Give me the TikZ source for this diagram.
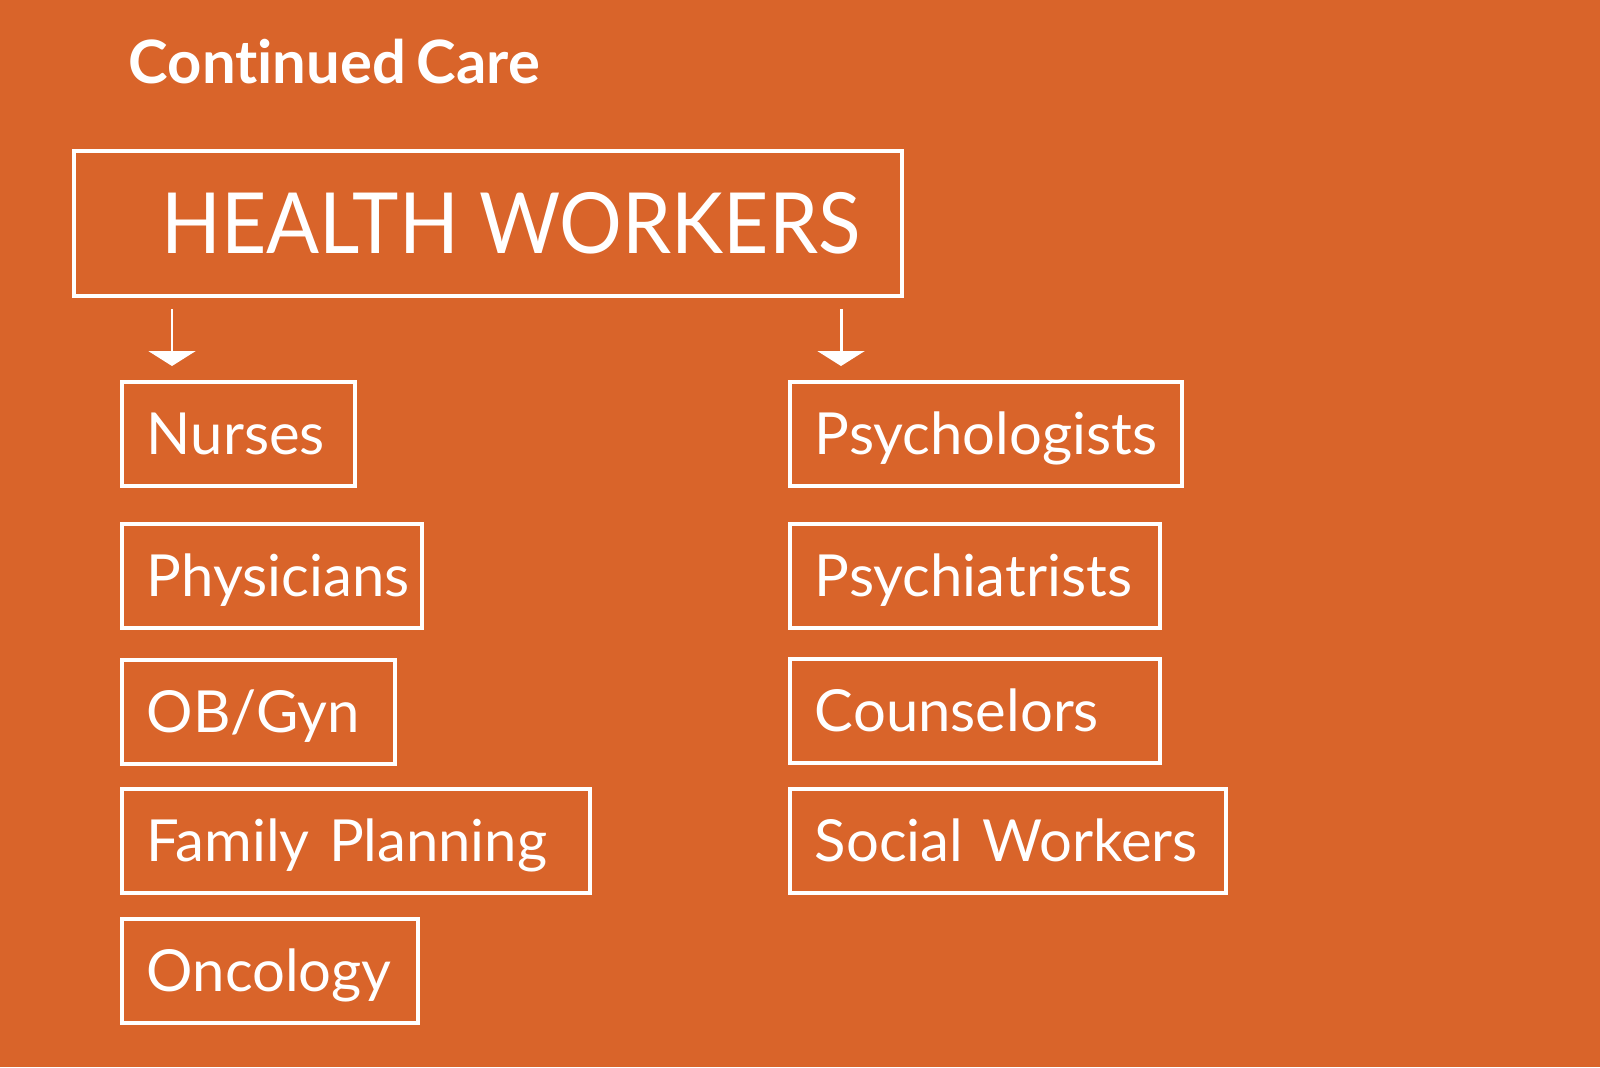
\documentclass[tikz,border=0pt]{standalone}
\usepackage{fontspec}
\setmainfont[Ligatures=NoCommon,WordSpace=0.75]{Lato}
\newfontfamily\hwfont[FakeStretch=0.93]{Lato}
\usetikzlibrary{arrows.meta}
\definecolor{carrot}{RGB}{217,100,42}
\tikzset{
 wbox/.style={draw=white,line width=1.1pt,text=white,anchor=north west,minimum height=1.04cm,inner xsep=0.25cm,text height=0.42cm,text depth=0pt,align=left,font=\fontsize{16.5}{18}\selectfont},
 downarr/.style={white,line width=0.85pt,-{Triangle[width=0.47cm,length=0.15cm]}}
}
\begin{document}
\begin{tikzpicture}
 \fill[carrot](0,0) rectangle (16,-10.67);
 \useasboundingbox (0,0) rectangle (16,-10.67);
 \node[anchor=base west,text=white,font=\fontsize{17}{20}\selectfont\bfseries,inner sep=0pt](title) at (1.28,-0.83) {Continued Care};
 \node[draw=white,line width=1.1pt,text=white,anchor=north west,minimum width=8.28cm,minimum height=1.45cm,inner sep=0pt,text height=0.6cm,text depth=0pt,font=\fontsize{24}{28}\hwfont](hw) at (0.72,-1.49) {\hspace{0.46cm}HEALTH WORKERS};
 \coordinate (l0) at (1.72,-3.09);
 \coordinate (l1) at (1.72,-3.66);
 \coordinate (r0) at (8.41,-3.09);
 \coordinate (r1) at (8.41,-3.66);
 \draw[downarr](l0)--(l1);
 \draw[downarr](r0)--(r1);
 \node[wbox,text width=1.83cm](nurses) at (1.20,-3.80) {\mbox{Nurses}};
 \node[wbox,text width=2.50cm](physicians) at (1.20,-5.22) {\mbox{Physicians}};
 \node[wbox,text width=2.23cm](obgyn) at (1.20,-6.58) {\mbox{OB/Gyn}};
 \node[wbox,text width=4.18cm](family) at (1.20,-7.87) {\mbox{Family Planning}};
 \node[wbox,text width=2.46cm](oncology) at (1.20,-9.17) {\mbox{Oncology}};
 \node[wbox,text width=3.42cm](psychologists) at (7.88,-3.80) {\mbox{Psychologists}};
 \node[wbox,text width=3.20cm](psychiatrists) at (7.88,-5.22) {\mbox{Psychiatrists}};
 \node[wbox,text width=3.20cm](counselors) at (7.88,-6.57) {\mbox{Counselors}};
 \node[wbox,text width=3.86cm](social) at (7.88,-7.87) {\mbox{Social Workers}};
\end{tikzpicture}
\end{document}
